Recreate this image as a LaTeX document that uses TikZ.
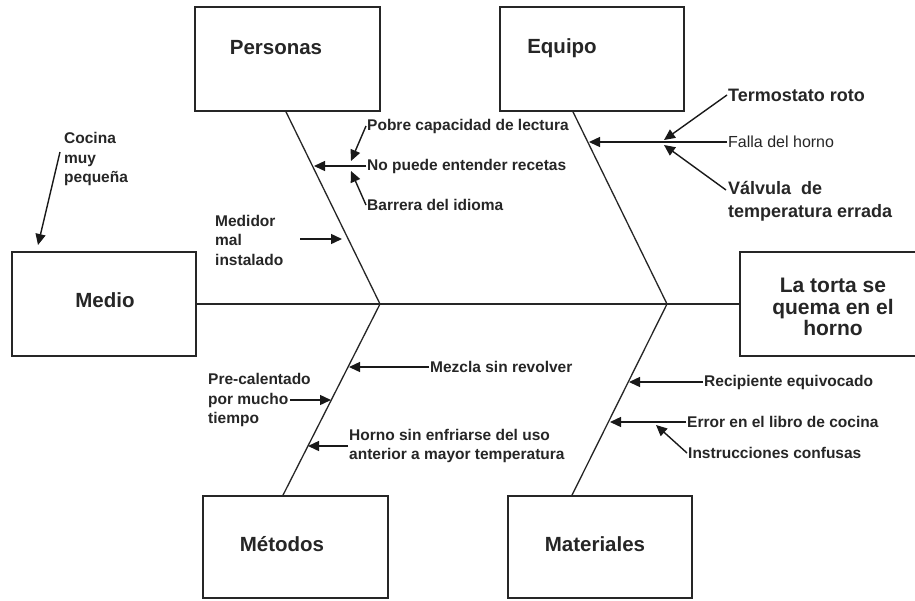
\documentclass[tikz,border=0pt]{standalone}
\usepackage{fontspec}
\setmainfont{Liberation Sans}
\usetikzlibrary{arrows.meta}

\begin{document}
\begin{tikzpicture}[x=1pt,y=-1pt,
  catbox/.style={draw=black!85, line width=1.7pt, inner sep=0pt},
  cattitle/.style={font=\fontsize{20.5}{24}\selectfont\bfseries, inner sep=0pt, text=black!85},
  causetext/.style={font=\fontsize{15.5}{19.5}\selectfont\bfseries, inner sep=1pt, anchor=west, align=left, text=black!85},
  bigcause/.style={font=\fontsize{18}{23}\selectfont\bfseries, inner sep=1pt, anchor=west, align=left, text=black!85},
  bone/.style={line width=1.3pt, draw=black!85},
  arr/.style={line width=1.4pt, draw=black!90, -{Triangle[length=11pt,width=10pt]}},
]
\useasboundingbox (0,0) rectangle (915,600);
\fill[white] (0,0) rectangle (915,600);

% category boxes and titles
\node[catbox, minimum width=185pt, minimum height=104pt] (personas) at (287.5,59) {};
\node[cattitle] (personasT) at (276,48) {Personas};
\node[catbox, minimum width=184pt, minimum height=104pt] (equipo) at (592,59) {};
\node[cattitle] (equipoT) at (562,48) {Equipo};
\node[catbox, minimum width=184pt, minimum height=104pt] (medio) at (104,304) {};
\node[cattitle] (medioT) at (105,300) {Medio};
\node[catbox, minimum width=185pt, minimum height=102pt] (metodos) at (295.5,547) {};
\node[cattitle] (metodosT) at (282,544) {Métodos};
\node[catbox, minimum width=184pt, minimum height=102pt] (materiales) at (600,547) {};
\node[cattitle] (materialesT) at (595,544) {Materiales};

% effect box (runs off the right edge)
\node[catbox, minimum width=190pt, minimum height=104pt] (result) at (835,304) {};
\node[cattitle, align=center, font=\fontsize{21}{21.5}\selectfont\bfseries] (resultT) at (833,307) {La torta se\\quema en el\\horno};

% spine and bones
\coordinate (j1) at (380,304);
\coordinate (j2) at (667,304);
\draw[bone] (medio.east) -- (result.west);
\draw[bone] ([xshift=-1.5pt]personas.south) -- (j1);
\draw[bone] ([xshift=-19pt]equipo.south) -- (j2);
\draw[bone] (j1) -- ([xshift=-12.5pt]metodos.north);
\draw[bone] (j2) -- ([xshift=-28pt]materiales.north);

% Personas
\node[causetext] (pobre) at (366,126) {Pobre capacidad de lectura};
\node[causetext] (nopuede) at (366,166) {No puede entender recetas};
\node[causetext] (barrera) at (366,205) {Barrera del idioma};
\coordinate (p1) at (314,166);
\coordinate (p2) at (351,161);
\coordinate (p3) at (351,171);
\draw[arr] (nopuede.west) -- (p1);
\draw[arr] (pobre.west) -- (p2);
\draw[arr] (barrera.west) -- (p3);

% Equipo
\node[bigcause] (termo) at (727,95) {Termostato roto};
\node[causetext, font=\fontsize{16}{19}\selectfont] (falla) at (727,142) {Falla del horno};
\node[bigcause] (valv) at (727,201.5) {Válvula\ \ de\\temperatura errada};
\coordinate (e1) at (589,142);
\coordinate (e2) at (664,140);
\coordinate (e3) at (664,145);
\coordinate (vstart) at (726,190);
\draw[arr] (falla.west) -- (e1);
\draw[arr] (termo.west) -- (e2);
\draw[arr] (vstart) -- (e3);

% Medio
\node[causetext] (cocina) at (63,159) {Cocina\\muy\\pequeña};
\node[causetext] (medidor) at (214,240) {Medidor\\mal\\instalado};
\coordinate (c0) at (60,152);
\coordinate (c1) at (38,245);
\coordinate (d0) at (300,239);
\coordinate (d1) at (342,239);
\draw[arr] (c0) -- (c1);
\draw[arr] (d0) -- (d1);

% Metodos
\node[causetext] (mezcla) at (429,367) {Mezcla sin revolver};
\node[causetext] (precal) at (207,400) {Pre-calentado\\por mucho\\tiempo};
\node[causetext, font=\fontsize{15.5}{18.5}\selectfont\bfseries] (horno) at (348,446) {Horno sin enfriarse del uso\\anterior a mayor temperatura};
\coordinate (m1) at (349,367);
\coordinate (m2s) at (290,400);
\coordinate (m2) at (331,400);
\coordinate (m3) at (308,446);
\draw[arr] (mezcla.west) -- (m1);
\draw[arr] (m2s) -- (m2);
\draw[arr] (horno.west) -- (m3);

% Materiales
\node[causetext] (recip) at (703,382) {Recipiente equivocado};
\node[causetext] (error) at (686,422) {Error en el libro de cocina};
\node[causetext] (instr) at (687,453) {Instrucciones confusas};
\coordinate (t1) at (629,382);
\coordinate (t2) at (610,422);
\coordinate (t3) at (656,425);
\draw[arr] (recip.west) -- (t1);
\draw[arr] (error.west) -- (t2);
\draw[arr] (instr.west) -- (t3);
\end{tikzpicture}
\end{document}
